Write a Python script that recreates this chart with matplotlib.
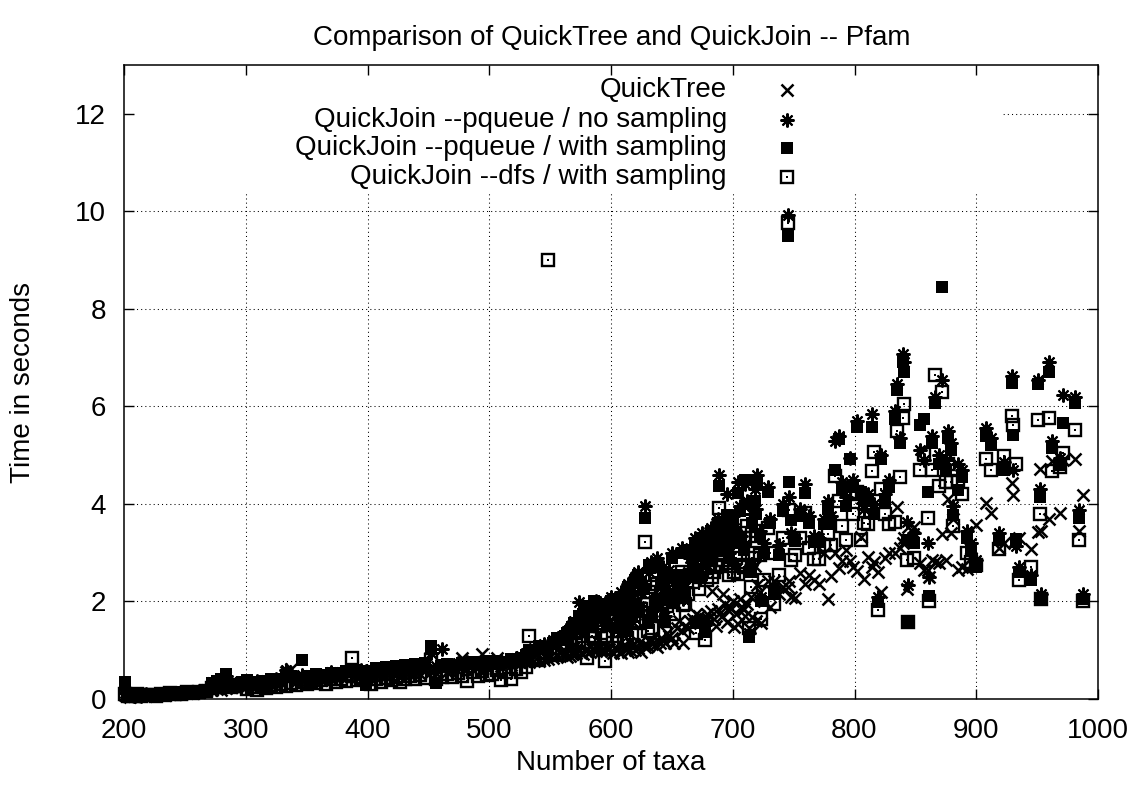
import matplotlib.pyplot as plt
from matplotlib.patches import Rectangle

plt.rcParams['font.family'] = ['Liberation Sans', 'DejaVu Sans']
plt.rcParams['font.size'] = 20

# one row per Pfam family: number of taxa and running time (s) of each method
taxa = [201, 203, 205, 208, 211, 214, 218, 222, 226, 230, 234, 238, 242, 247, 252, 257, 262, 267, 272, 276, 280, 284, 288, 292, 297,
        301, 305, 309, 313, 317, 321, 325, 329, 333, 337, 341, 346, 350, 354, 358, 362, 366, 370, 374, 378, 382, 387, 391, 395, 399,
        403, 407, 411, 415, 419, 423, 427, 431, 435, 439, 443, 447, 452, 456, 461, 465, 469, 474, 478, 482, 487, 491, 494, 498,
        502, 506, 510, 514, 518, 522, 526, 530, 533, 537, 541, 545, 548, 552, 556, 560, 564, 568, 571, 574, 577, 580, 583, 586, 589, 592, 595, 598,
        602, 605, 608, 611, 614, 617, 620, 623, 625, 628, 631, 634, 638, 641, 644, 648, 652, 656, 659, 663, 667, 670, 673, 677, 680, 683, 686, 689, 692, 695, 698, 701, 704,
        707, 710, 713, 716, 718, 720, 723, 726, 729, 731, 734, 738, 741, 745, 746, 748, 751, 755, 759, 763, 767, 771, 775, 778, 781, 784, 787, 790, 793, 796, 799,
        802, 805, 808, 811, 814, 816, 819, 822, 825, 828, 833, 835, 837, 840, 841, 843, 844, 849, 854, 857, 860, 861, 864, 866, 869, 872, 875, 877, 879, 881, 885, 888, 892, 896, 900,
        908, 912, 919, 923, 929, 930, 933, 935, 945, 951, 952, 953, 960, 962, 969, 971, 981, 984, 988,
        562, 566, 570, 575, 579, 584, 588, 591, 594, 597, 600, 604, 607, 610, 613, 616, 619, 622, 627, 630, 633, 636, 640, 643,
        646, 650, 654, 658, 661, 665, 669, 672, 675, 679, 682, 685, 688, 691, 694, 697, 700, 703, 706, 709, 712, 715, 719, 722]

quicktree = [.08, .06, .05, .07, .06, .08, .07, .09, .08, .10, .09, .11, .10, .12, .13, .12, .15, .16, .18, .20, .19, .22, .24, .22, .25,
             .26, .24, .28, .27, .30, .29, .31, .33, .55, .62, .34, .37, .36, .38, .40, .39, .42, .41, .43, .45, .44, .46, .45, .48, .47,
             .42, .50, .45, .52, .47, .53, .49, .54, .50, .55, .52, .58, .55, .54, .62, .56, .60, .58, .84, .62, .60, .65, .92, .63,
             .70, .84, .68, .72, .70, .74, .73, .76, .75, .78, .77, .80, .82, .85, .88, .90, .86, .92, .95, .98, .93, 1.00, .97, 1.02, 1.05, .99, 1.08, 1.03,
             .94, 1.00, .94, 1.05, .97, 1.10, 1.00, 1.15, .97, 1.07, 1.20, 1.12, 1.07, 1.25, 1.14, 1.30, 1.14, 1.60, 1.14, 1.45, 1.65, 1.75, 1.55, 1.65, 1.65, 2.21, 1.50, 1.75, 2.15, 1.58, 1.89, 1.48, 1.54,
             1.89, 1.70, 1.45, 1.69, 2.73, 2.34, 1.55, 2.00, 2.41, 1.89, 2.41, 2.15, 2.30, 2.30, 2.41, 2.09, 2.07, 2.58, 2.36, 2.55, 2.45, 2.36, 2.99, 2.06, 2.52, 2.99, 2.69, 2.83, 3.06, 2.83, 2.70,
             2.63, 3.33, 2.46, 2.91, 2.70, 2.80, 2.60, 2.20, 2.90, 3.00, 3.00, 3.94, 3.10, 3.20, 3.30, 2.25, 3.53, 3.53, 2.78, 2.65, 2.65, 2.50, 2.85, 2.80, 2.78, 3.39, 2.84, 4.11, 3.40, 3.70, 2.64, 2.70, 2.67, 2.90, 3.56,
             4.02, 3.82, 3.10, 3.20, 4.42, 4.19, 3.25, 3.30, 3.08, 3.43, 4.71, 3.45, 3.70, 4.88, 3.82, 4.90, 4.93, 3.45, 4.19,
             .90, .88, .96, .95, 1.00, 1.02, .98, 1.06, 1.00, 1.05, .98, 1.02, .97, 1.08, 1.03, 1.00, 1.12, 1.05, 1.10, 1.08, 1.18, 1.10, 1.14, 1.20,
             1.35, 1.25, 1.45, 1.40, 1.50, 1.60, 1.55, 1.70, 1.60, 1.75, 1.80, 1.65, 1.85, 1.70, 1.95, 1.80, 2.00, 1.75, 2.05, 1.85, 1.95, 2.10, 1.60, 2.20]

pq_nosamp = [.12, .08, .10, .06, .09, .07, .10, .08, .11, .09, .12, .10, .13, .12, .15, .14, .17, .20, .34, .30, .42, .48, .27, .30, .32,
             .34, .30, .36, .33, .38, .35, .41, .39, .60, .44, .46, .50, .45, .47, .50, .48, .52, .55, .50, .56, .53, .58, .56, .60, .58,
             .62, .59, .64, .61, .66, .63, .68, .65, .70, .67, .72, .69, .95, .68, 1.02, .66, .70, .73, .68, .75, .72, .74, .77, .72,
             .75, .73, .78, .80, .76, .84, .88, .95, .92, 1.05, .98, 1.12, 1.05, 1.20, 1.15, 1.30, 1.40, 1.35, 1.55, 1.99, 1.60, 1.75, 1.70, 1.90, 1.85, 1.65, 1.80, 1.95,
             1.85, 1.55, 2.20, 1.70, 2.35, 1.60, 2.50, 1.90, 2.20, 3.96, 2.60, 1.80, 2.90, 2.30, 1.70, 2.65, 2.15, 2.40, 2.05, 2.60, 2.85, 1.62, 3.10, 1.52, 3.30, 3.05, 3.40, 4.59, 3.65, 4.20, 3.40, 3.50, 4.45,
             3.35, 4.40, 1.35, 3.80, 4.30, 4.60, 2.10, 3.20, 4.35, 3.70, 2.30, 3.15, 4.00, 9.92, 4.15, 3.40, 3.30, 3.90, 4.40, 3.75, 3.35, 3.30, 3.70, 4.05, 3.75, 5.30, 5.40, 4.45, 4.15, 4.95, 4.50,
             5.70, 4.10, 3.90, 4.20, 5.85, 4.00, 2.10, 5.00, 4.20, 4.50, 5.90, 6.45, 5.35, 7.08, 6.90, 3.63, 2.34, 3.40, 5.10, 4.90, 3.20, 2.50, 5.40, 6.20, 5.00, 6.55, 4.90, 5.50, 5.25, 3.95, 4.82, 4.70, 3.45, 3.20, 2.85,
             5.55, 5.35, 3.40, 4.85, 6.62, 4.70, 3.14, 2.70, 2.55, 6.54, 4.30, 2.15, 6.91, 5.30, 4.95, 6.23, 6.20, 3.88, 2.15,
             1.25, 1.45, 1.60, 1.50, 1.80, 1.55, 2.00, 1.70, 1.90, 1.55, 2.10, 1.75, 1.65, 2.05, 1.50, 2.15, 1.85, 2.60, 2.35, 1.65, 2.80, 2.10, 1.95, 2.70,
             2.25, 3.00, 2.45, 3.10, 2.30, 2.90, 3.30, 2.60, 3.40, 2.75, 3.50, 2.95, 3.70, 3.20, 3.55, 3.00, 3.75, 3.30, 3.95, 3.15, 4.05, 2.75, 3.90, 3.45]

pq_samp = [.35, .07, .09, .05, .08, .10, .09, .07, .10, .12, .11, .09, .12, .14, .13, .16, .15, .19, .32, .36, .40, .52, .30, .28, .35,
           .38, .28, .34, .37, .35, .40, .38, .42, .45, .48, .43, .80, .48, .44, .52, .46, .50, .53, .54, .52, .57, .55, .59, .57, .28,
           .58, .63, .60, .66, .62, .67, .64, .69, .66, .71, .68, .73, 1.09, .32, .70, .72, .67, .70, .74, .71, .76, .70, .73, .78,
           .72, .77, .74, .76, .82, .80, .85, .90, 1.00, .98, 1.08, 1.05, 1.02, 1.15, 1.25, 1.22, 1.35, 1.48, 1.50, 1.70, 1.75, 1.65, 1.85, 2.00, 1.80, 1.95, 1.70, 1.90,
           2.05, 1.45, 2.10, 1.60, 2.30, 1.75, 2.45, 1.80, 2.40, 3.72, 2.75, 1.70, 2.75, 2.40, 1.60, 2.50, 2.00, 2.30, 2.23, 2.50, 2.73, 1.55, 2.96, 1.38, 3.15, 2.90, 3.17, 4.37, 3.45, 3.77, 3.28, 3.20, 4.23,
           3.20, 4.50, 1.27, 3.60, 4.05, 4.45, 2.00, 3.00, 4.25, 3.60, 2.15, 2.95, 3.85, 9.50, 4.44, 3.68, 3.24, 3.75, 4.23, 3.60, 3.22, 3.22, 3.59, 3.90, 3.59, 4.69, 5.34, 4.28, 3.95, 4.93, 4.35,
           5.58, 4.25, 4.07, 4.07, 5.58, 3.80, 1.99, 4.93, 4.07, 4.35, 5.75, 6.33, 5.24, 6.91, 6.71, 3.26, 1.55, 3.20, 5.61, 5.75, 4.25, 2.12, 5.24, 6.07, 4.82, 8.45, 4.70, 5.36, 5.10, 3.77, 4.28, 4.55, 3.30, 3.05, 2.71,
           5.40, 5.20, 3.26, 4.69, 6.47, 5.41, 3.29, 2.60, 2.44, 6.45, 4.15, 2.07, 6.71, 5.15, 4.80, 5.66, 6.07, 3.71, 2.06,
           1.30, 1.40, 1.55, 1.65, 1.90, 1.60, 1.95, 1.75, 1.85, 1.50, 2.00, 1.85, 1.60, 1.95, 1.40, 2.25, 1.95, 2.55, 2.25, 1.55, 2.70, 2.00, 2.05, 2.60,
           2.15, 2.90, 2.55, 3.00, 2.20, 3.05, 3.20, 2.50, 3.30, 2.90, 3.45, 3.05, 3.60, 3.10, 3.45, 2.90, 3.65, 3.40, 3.85, 3.05, 4.00, 2.60, 3.80, 3.35]

dfs_samp = [.10, .06, .08, .07, .10, .06, .08, .09, .07, .10, .09, .12, .11, .10, .14, .13, .14, .17, .22, .25, .30, .33, .25, .26, .30,
            .20, .24, .19, .26, .22, .28, .25, .30, .27, .33, .29, .35, .31, .36, .33, .38, .30, .40, .34, .42, .36, .85, .38, .44, .40,
            .30, .40, .35, .44, .38, .46, .35, .42, .48, .40, .50, .44, .80, .40, .46, .52, .45, .54, .48, .36, .55, .47, .58, .50,
            .52, .60, .38, .56, .42, .62, .55, .66, 1.30, .84, .80, .88, 9.00, .95, .90, 1.05, 1.10, 1.00, 1.20, 1.15, 1.30, .85, 1.40, 1.25, 1.50, 1.10, .78, 1.60,
            1.40, 1.30, 1.70, 1.20, 1.90, 1.35, 2.10, 1.55, 1.85, 3.21, 2.20, 1.45, 2.35, 1.95, 1.35, 2.05, 1.75, 2.20, 1.93, 2.15, 2.40, 1.35, 2.60, 1.21, 2.73, 2.50, 2.70, 3.92, 2.85, 3.10, 2.73, 2.60, 2.56,
            2.75, 3.30, 1.45, 2.90, 3.00, 3.45, 1.65, 2.45, 3.50, 3.00, 1.95, 2.55, 3.30, 9.77, 3.87, 2.86, 2.95, 3.30, 3.81, 3.10, 2.88, 2.88, 3.15, 3.39, 3.15, 4.57, 4.07, 3.55, 3.27, 4.20, 3.80,
            4.25, 3.27, 3.60, 3.58, 4.67, 5.06, 1.82, 4.31, 3.80, 3.58, 3.63, 5.49, 4.55, 5.76, 6.04, 2.85, 1.58, 2.90, 4.69, 5.02, 3.72, 2.00, 4.70, 6.65, 4.36, 6.30, 4.45, 4.82, 4.45, 3.55, 4.47, 4.20, 3.00, 2.80, 2.75,
            4.93, 4.69, 3.08, 4.99, 5.81, 5.61, 4.81, 2.45, 2.71, 5.73, 3.80, 2.05, 5.77, 4.67, 4.75, 5.05, 5.51, 3.27, 2.00,
            1.15, 1.25, 1.35, 1.45, 1.55, 1.30, 1.70, 1.50, 1.55, 1.30, 1.75, 1.50, 1.40, 1.65, 1.25, 1.80, 1.60, 2.25, 1.95, 1.40, 2.30, 1.70, 1.75, 2.25,
            1.90, 2.50, 2.10, 2.60, 1.95, 2.55, 2.80, 2.25, 2.90, 2.45, 3.00, 2.60, 3.20, 2.75, 3.05, 2.55, 3.25, 2.90, 3.40, 2.70, 3.55, 2.30, 3.35, 2.95]

labels = ["QuickTree", "QuickJoin --pqueue / no sampling",
          "QuickJoin --pqueue / with sampling", "QuickJoin --dfs / with sampling"]

fig = plt.figure(figsize=(11.45, 7.87), dpi=100)
ax = fig.add_axes([124 / 1145, 88 / 787, 974 / 1145, 634 / 787])

ax.set_xlim(200, 1000)
ax.set_ylim(0, 13)
ax.set_xticks(range(200, 1001, 100))
ax.set_yticks(range(0, 13, 2))
ax.tick_params(direction='in', length=7, width=1, top=True, right=True, labelsize=20)
ax.tick_params(axis='y', pad=13)
ax.tick_params(axis='x', pad=14)
for s in ax.spines.values():
    s.set_linewidth(1.1)

# dotted grid, covered by the opaque key box
for x in range(300, 1000, 100):
    ax.axvline(x, color='k', lw=0.75, ls=(0, (1, 3)), zorder=0.5)
for y in range(2, 13, 2):
    ax.axhline(y, color='k', lw=0.75, ls=(0, (1, 3)), zorder=0.5)
ax.add_patch(Rectangle((0.011, 0.798), 0.8915, 0.202, transform=ax.transAxes,
                       facecolor='white', edgecolor='none', zorder=1))

qt_style = dict(marker='x', ms=8.5, mew=1.8, color='k', ls='none')
pqn_style = dict(marker=(8, 2, 0), ms=10, mew=1.5, color='k', ls='none')
pqs_style = dict(marker='s', ms=8.5, mew=0, color='k', ls='none')
dfs_style = dict(marker='s', ms=8.2, mfc='none', mec='k', mew=1.7, ls='none')
dot_style = dict(marker='s', ms=1.6, mew=0, color='k', ls='none')

ax.plot(taxa, quicktree, clip_on=False, zorder=2, **qt_style)
ax.plot(taxa, pq_nosamp, clip_on=False, zorder=2, **pqn_style)
ax.plot(taxa, pq_samp, clip_on=False, zorder=2, **pqs_style)
ax.plot(taxa, dfs_samp, clip_on=False, zorder=2, **dfs_style)
ax.plot(taxa, dfs_samp, clip_on=False, zorder=2, **dot_style)

# key, gnuplot style: right-aligned text, sample to the right
key_y = [0.9606, 0.9132, 0.8691, 0.8233]
styles = [[qt_style], [pqn_style], [pqs_style], [dfs_style, dot_style]]
for lab, ky, st in zip(labels, key_y, styles):
    ax.text(0.619, ky, lab, ha='right', va='center', transform=ax.transAxes, zorder=3)
    for s in st:
        ax.plot([0.681], [ky], transform=ax.transAxes, clip_on=False, zorder=3, **s)

fig.text(612 / 1145, 1 - 38 / 787, "Comparison of QuickTree and QuickJoin -- Pfam",
         ha='center', va='center')
fig.text(611 / 1145, 1 - 763 / 787, "Number of taxa", ha='center', va='center')
fig.text(23 / 1145, 1 - 383 / 787, "Time in seconds", ha='center', va='center', rotation=90)

fig.savefig("out.png", dpi=100)
